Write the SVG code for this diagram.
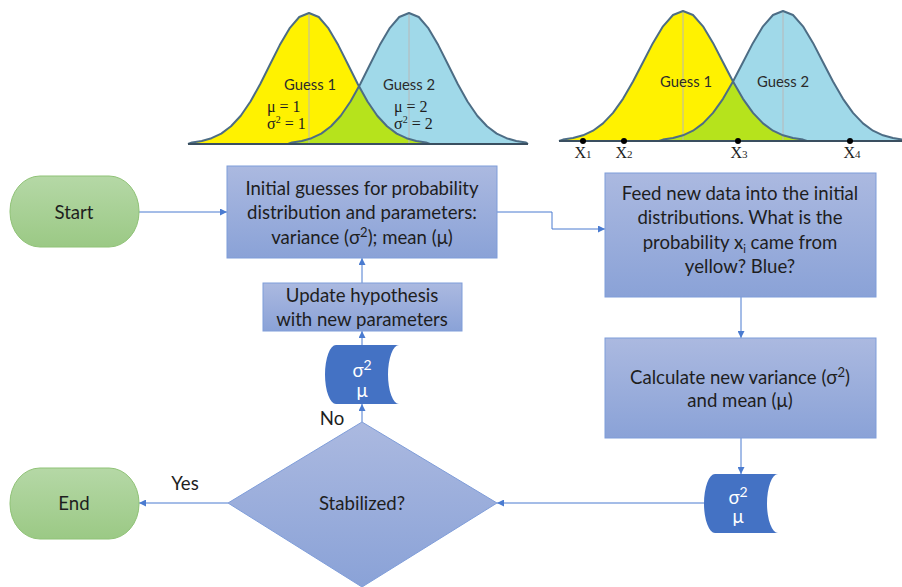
<svg xmlns="http://www.w3.org/2000/svg" width="902" height="587" viewBox="0 0 902 587">
<defs>
<linearGradient id="gBox" x1="0" y1="0" x2="0" y2="1"><stop offset="0" stop-color="#abb9e0"/><stop offset="1" stop-color="#8aa2d7"/></linearGradient>
<linearGradient id="gTerm" x1="0" y1="0" x2="0" y2="1"><stop offset="0" stop-color="#b5d8a6"/><stop offset="1" stop-color="#9bc985"/></linearGradient>
<marker id="ah" viewBox="0 0 8 8" refX="8" refY="4" markerWidth="7" markerHeight="7" markerUnits="userSpaceOnUse" orient="auto"><path d="M0,0 L8,4 L0,8 Z" fill="#4a7bd0"/></marker>
</defs>
<style>
.box{fill:url(#gBox);stroke:#7f9dd9;stroke-width:1}
.term{fill:url(#gTerm);stroke:#8fc276;stroke-width:1}
.cyl{fill:#4472c4}
.t{font-family:Lato,"Liberation Sans",sans-serif;font-size:18.6px;fill:#1e1e1e;text-anchor:middle}
.tw{font-family:Lato,"Liberation Sans",sans-serif;font-size:18.6px;fill:#ffffff;text-anchor:middle}
.g{font-family:Lato,"Liberation Sans",sans-serif;font-size:14.8px;fill:#2b2b2b;text-anchor:middle}
.s{font-family:"Liberation Serif",serif;font-size:16px;fill:#1e1e1e}
.conn{fill:none;stroke:#4a7bd0;stroke-width:1}
.curve{fill:none;stroke:#4d6d85;stroke-width:2;stroke-linejoin:round}
.mean{stroke:#b8b8b8;stroke-width:1}
.base{stroke:#3a4f60;stroke-width:2}
</style>

<g id="chart-left">
<path d="M188,144 L192,142.5 L201.75,141 L211.5,138.2 L221.25,133.6 L231,126.3 L240.75,115.7 L250.5,101.5 L260.25,84 L270,64.5 L279.75,45.1 L289.5,28.4 L299.25,17 L309,13 L318.75,17 L328.5,28.4 L338.25,45.1 L348,64.5 L357.75,84 L367.5,101.5 L377.25,115.7 L387,126.3 L396.75,133.6 L406.5,138.2 L416.25,141 L426,142.5 L430,144 Z" fill="#fff200"/>
<path d="M288,144 L292,142.5 L301.75,141 L311.5,138.2 L321.25,133.6 L331,126.3 L340.75,115.7 L350.5,101.5 L360.25,84 L370,64.5 L379.75,45.1 L389.5,28.4 L399.25,17 L409,13 L418.75,17 L428.5,28.4 L438.25,45.1 L448,64.5 L457.75,84 L467.5,101.5 L477.25,115.7 L487,126.3 L496.75,133.6 L506.5,138.2 L516.25,141 L526,142.5 L528,144 Z" fill="#a0d9e9"/>
<path d="M288,144 L292,142.5 L301.75,141 L311.5,138.2 L321.25,133.6 L331,126.3 L340.75,115.7 L350.5,101.5 L359,86 L367.5,101.5 L377.25,115.7 L387,126.3 L396.75,133.6 L406.5,138.2 L416.25,141 L426,142.5 L430,144 Z" fill="#b6e31c"/>
<line class="mean" x1="309" y1="13" x2="309" y2="144"/>
<line class="mean" x1="409" y1="13" x2="409" y2="144"/>
<path class="curve" d="M188,144 L192,142.5 L201.75,141 L211.5,138.2 L221.25,133.6 L231,126.3 L240.75,115.7 L250.5,101.5 L260.25,84 L270,64.5 L279.75,45.1 L289.5,28.4 L299.25,17 L309,13 L318.75,17 L328.5,28.4 L338.25,45.1 L348,64.5 L357.75,84 L367.5,101.5 L377.25,115.7 L387,126.3 L396.75,133.6 L406.5,138.2 L416.25,141 L426,142.5 L430,144"/>
<path class="curve" d="M288,144 L292,142.5 L301.75,141 L311.5,138.2 L321.25,133.6 L331,126.3 L340.75,115.7 L350.5,101.5 L360.25,84 L370,64.5 L379.75,45.1 L389.5,28.4 L399.25,17 L409,13 L418.75,17 L428.5,28.4 L438.25,45.1 L448,64.5 L457.75,84 L467.5,101.5 L477.25,115.7 L487,126.3 L496.75,133.6 L506.5,138.2 L516.25,141 L526,142.5 L528,144"/>
<line class="base" x1="188" y1="144" x2="528" y2="144"/>
<text class="g" x="310" y="90">Guess 1</text>
<text class="g" x="409" y="90">Guess 2</text>
<text class="s" x="267" y="112">μ  = 1</text>
<text class="s" x="267" y="129">σ<tspan font-size="10" dy="-6">2</tspan><tspan dy="6"> = 1</tspan></text>
<text class="s" x="394" y="112">μ  = 2</text>
<text class="s" x="394" y="129">σ<tspan font-size="10" dy="-6">2</tspan><tspan dy="6"> = 2</tspan></text>
</g>

<g id="chart-right">
<path d="M559,141 L563,139.6 L573,138 L583,135.3 L593,130.7 L603,123.4 L613,112.9 L623,98.8 L633,81.5 L643,62.2 L653,42.9 L663,26.3 L673,15 L683,11 L693,15 L703,26.3 L713,42.9 L723,62.2 L733,81.5 L743,98.8 L753,112.9 L763,123.4 L773,130.7 L783,135.3 L793,138 L803,139.6 L807,141 Z" fill="#fff200"/>
<path d="M659,141 L663,139.6 L673,138 L683,135.3 L693,130.7 L703,123.4 L713,112.9 L723,98.8 L733,81.5 L743,62.2 L753,42.9 L763,26.3 L773,15 L783,11 L793,15 L803,26.3 L813,42.9 L823,62.2 L833,81.5 L843,98.8 L853,112.9 L863,123.4 L873,130.7 L883,135.3 L893,138 L902,139.5 L902,141 Z" fill="#a0d9e9"/>
<path d="M659,141 L663,139.6 L673,138 L683,135.3 L693,130.7 L703,123.4 L713,112.9 L723,98.8 L733,81.5 L743,98.8 L753,112.9 L763,123.4 L773,130.7 L783,135.3 L793,138 L803,139.6 L807,141 Z" fill="#b6e31c"/>
<line class="mean" x1="683" y1="11" x2="683" y2="141"/>
<line class="mean" x1="783" y1="11" x2="783" y2="141"/>
<path class="curve" d="M559,141 L563,139.6 L573,138 L583,135.3 L593,130.7 L603,123.4 L613,112.9 L623,98.8 L633,81.5 L643,62.2 L653,42.9 L663,26.3 L673,15 L683,11 L693,15 L703,26.3 L713,42.9 L723,62.2 L733,81.5 L743,98.8 L753,112.9 L763,123.4 L773,130.7 L783,135.3 L793,138 L803,139.6 L807,141"/>
<path class="curve" d="M659,141 L663,139.6 L673,138 L683,135.3 L693,130.7 L703,123.4 L713,112.9 L723,98.8 L733,81.5 L743,62.2 L753,42.9 L763,26.3 L773,15 L783,11 L793,15 L803,26.3 L813,42.9 L823,62.2 L833,81.5 L843,98.8 L853,112.9 L863,123.4 L873,130.7 L883,135.3 L893,138 L902,139.5"/>
<line class="base" x1="559" y1="141" x2="902" y2="141"/>
<text class="g" x="686" y="87">Guess 1</text>
<text class="g" x="783" y="87">Guess 2</text>
<circle cx="583" cy="141" r="3" fill="#000"/>
<circle cx="624" cy="141" r="3" fill="#000"/>
<circle cx="738" cy="141" r="3" fill="#000"/>
<circle cx="850" cy="141" r="3" fill="#000"/>
<text class="s" x="583" y="158" text-anchor="middle">X<tspan font-size="11">1</tspan></text>
<text class="s" x="624" y="158" text-anchor="middle">X<tspan font-size="11">2</tspan></text>
<text class="s" x="739" y="158" text-anchor="middle">X<tspan font-size="11">3</tspan></text>
<text class="s" x="852" y="158" text-anchor="middle">X<tspan font-size="11">4</tspan></text>
</g>

<g id="connectors">
<path class="conn" d="M139,212 L227,212" marker-end="url(#ah)"/>
<path class="conn" d="M497,212 L552,212 L552,229 L605,229" marker-end="url(#ah)"/>
<path class="conn" d="M741,297 L741,338" marker-end="url(#ah)"/>
<path class="conn" d="M741,438 L741,474" marker-end="url(#ah)"/>
<path class="conn" d="M704,503 L497,503" marker-end="url(#ah)"/>
<path class="conn" d="M228,503 L139,503" marker-end="url(#ah)"/>
<path class="conn" d="M362,422 L362,404" marker-end="url(#ah)"/>
<path class="conn" d="M362,345 L362,331" marker-end="url(#ah)"/>
<path class="conn" d="M362,283 L362,258" marker-end="url(#ah)"/>
</g>

<g id="start">
<rect class="term" x="10" y="176" width="129" height="71" rx="30" ry="35"/>
<text class="t" x="74" y="219">Start</text>
</g>

<g id="initial">
<rect class="box" x="227" y="166" width="270" height="92"/>
<text class="t" x="362" y="195">Initial guesses for probability</text>
<text class="t" x="362" y="219">distribution and parameters:</text>
<text class="t" x="362" y="244">variance (σ<tspan font-size="13" dy="-7">2</tspan><tspan dy="7">); mean (μ)</tspan></text>
</g>

<g id="update">
<rect class="box" x="263" y="283" width="199" height="48"/>
<text class="t" x="362" y="302">Update hypothesis</text>
<text class="t" x="362" y="326">with new parameters</text>
</g>

<g id="feed">
<rect class="box" x="605" y="173" width="271" height="124"/>
<text class="t" x="740" y="200">Feed new data into the initial</text>
<text class="t" x="740" y="224">distributions. What is the</text>
<text class="t" x="740" y="249">probability x<tspan font-size="11" dy="4">i</tspan><tspan dy="-4"> came from</tspan></text>
<text class="t" x="740" y="273">yellow? Blue?</text>
</g>

<g id="calculate">
<rect class="box" x="605" y="338" width="271" height="100"/>
<text class="t" x="740" y="384">Calculate new variance (σ<tspan font-size="13" dy="-7">2</tspan><tspan dy="7">)</tspan></text>
<text class="t" x="740" y="407">and mean (μ)</text>
</g>

<g id="store-lower">
<path class="cyl" d="M715,474 L778,474 A11 29.5 0 0 0 778,533 L715,533 A11 29.5 0 0 1 715,474 Z"/>
<text class="tw" x="738" y="504">σ<tspan font-size="14" dy="-7">2</tspan></text>
<text class="tw" x="738" y="523">μ</text>
</g>

<g id="store-upper">
<path class="cyl" d="M336,345 L399,345 A11 29.5 0 0 0 399,404 L336,404 A11 29.5 0 0 1 336,345 Z"/>
<text class="tw" x="362" y="377">σ<tspan font-size="14" dy="-7">2</tspan></text>
<text class="tw" x="362" y="397">μ</text>
</g>

<g id="decision">
<path class="box" d="M362,422 L497,503 L362,587 L228,503 Z"/>
<text class="t" x="362" y="510">Stabilized?</text>
<text class="t" x="185" y="490">Yes</text>
<text class="t" x="332" y="425">No</text>
</g>

<g id="end">
<rect class="term" x="10" y="468" width="129" height="71" rx="30" ry="35"/>
<text class="t" x="74" y="510">End</text>
</g>
</svg>
